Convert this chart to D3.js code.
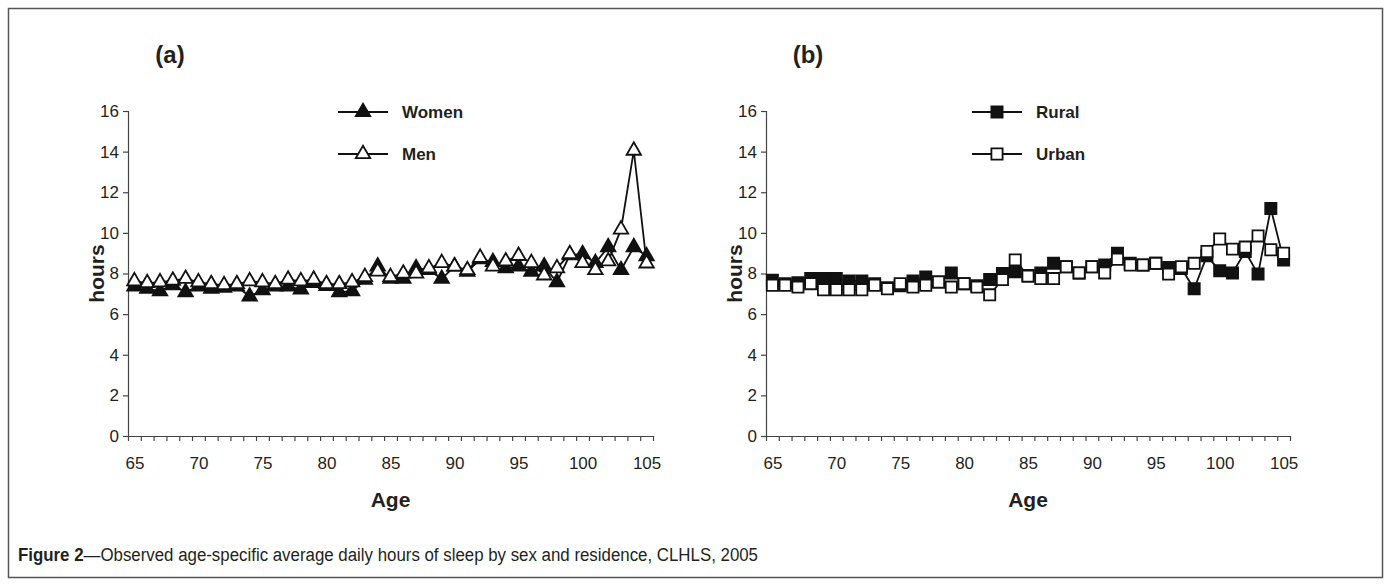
<!DOCTYPE html>
<html>
<head>
<meta charset="utf-8">
<script src="https://cdn.jsdelivr.net/npm/d3@7"></script>
<style>
  body { margin: 0; background: #fff; }
  text { font-family: "Liberation Sans", Arial, sans-serif; fill: #231f20; }
</style>
</head>
<body>
<div id="viz"></div>
<script>
const w = 1391;
const h = 586;

// ages 65..105 (categories)
const ages = [65,66,67,68,69,70,71,72,73,74,75,76,77,78,79,80,81,82,83,84,85,
              86,87,88,89,90,91,92,93,94,95,96,97,98,99,100,101,102,103,104,105];
const ageLabels = [65,70,75,80,85,90,95,100,105];
const hourTicks = [0,2,4,6,8,10,12,14,16];

// panel (a): by sex
const women = [7.36,7.25,7.13,7.43,7.08,7.36,7.25,7.30,7.36,6.87,7.18,7.36,7.36,7.22,7.53,7.39,7.08,7.13,7.70,8.35,
               7.74,7.74,8.26,8.17,7.74,8.35,8.09,8.70,8.57,8.26,8.35,8.09,8.35,7.57,8.90,8.96,8.52,9.30,8.17,9.30,8.85];
const men   = [7.62,7.53,7.57,7.65,7.74,7.57,7.48,7.43,7.48,7.62,7.57,7.48,7.70,7.62,7.70,7.48,7.48,7.57,7.83,8.10,
               7.83,8.00,8.00,8.26,8.52,8.35,8.17,8.78,8.35,8.60,8.87,8.52,7.91,8.26,8.96,8.52,8.17,8.60,10.17,14.05,8.50];

// panel (b): by residence
const rural = [7.67,7.50,7.55,7.75,7.75,7.75,7.63,7.63,7.50,7.30,7.40,7.63,7.83,7.58,8.03,7.50,7.40,7.70,8.00,8.08,
               7.90,8.03,8.50,8.33,8.03,8.33,8.42,9.00,8.50,8.42,8.50,8.30,8.25,7.25,8.87,8.13,8.03,9.08,7.97,11.20,8.67];
const urban = [7.42,7.42,7.33,7.50,7.20,7.20,7.20,7.20,7.42,7.25,7.50,7.33,7.42,7.58,7.33,7.50,7.33,6.95,7.70,8.67,
               7.87,7.75,7.75,8.33,8.03,8.33,8.03,8.70,8.42,8.42,8.50,7.97,8.33,8.50,9.08,9.70,9.20,9.30,9.85,9.17,9.00];

const svg = d3.select('#viz').append('svg')
    .attr('width', w)
    .attr('height', h)

// outer frame
svg.append('rect')
    .attr('x', 8.5).attr('y', 8.5)
    .attr('width', 1374).attr('height', 569)
    .attr('fill', 'none')
    .attr('stroke', '#555')
    .attr('stroke-width', 1.5)

const yTop = 111;
const yBottom = 436;
const y = d3.scaleLinear().domain([0, 16]).range([yBottom, yTop]);

const axisColor = '#444';

function drawPanel(opts) {
    const x = d3.scaleLinear().domain([64.5, 105.5]).range([opts.x0, opts.x1]);
    const g = svg.append('g');

    // y axis
    const yAxis = g.append('g')
        .attr('transform', `translate(${opts.x0},0)`)
        .call(d3.axisLeft(y).tickValues(hourTicks).tickSize(5).tickPadding(4))
    yAxis.select('.domain').attr('stroke', axisColor).attr('stroke-width', 1.2)
    yAxis.selectAll('.tick line').attr('stroke', axisColor).attr('stroke-width', 1.2)
    yAxis.selectAll('.tick text')
        .attr('font-size', 17)
        .attr('font-family', '"Liberation Sans", Arial, sans-serif')
        .attr('fill', '#231f20')

    // x axis: ticks between categories
    const bounds = ages.map(a => a - 0.5).concat([105.5]);
    const xTicks = g.append('g')
        .attr('transform', `translate(0,${yBottom})`)
        .call(d3.axisBottom(x).tickValues(bounds).tickSize(5).tickFormat('').tickSizeOuter(0))
    xTicks.select('.domain').attr('stroke', axisColor).attr('stroke-width', 1.2)
    xTicks.selectAll('.tick line').attr('stroke', axisColor).attr('stroke-width', 1.2)

    // x labels centred on categories
    const xLabels = g.append('g')
        .attr('transform', `translate(0,${yBottom})`)
        .call(d3.axisBottom(x).tickValues(ageLabels).tickSize(0).tickPadding(21))
    xLabels.select('.domain').remove()
    xLabels.selectAll('.tick text')
        .attr('font-size', 17)
        .attr('font-family', '"Liberation Sans", Arial, sans-serif')
        .attr('fill', '#231f20')

    // axis titles
    g.append('text')
        .attr('transform', `translate(${opts.x0 - 24},${(yTop + yBottom) / 2}) rotate(-90)`)
        .attr('text-anchor', 'middle')
        .attr('font-size', 21)
        .attr('font-weight', 'bold')
        .text('hours')

    g.append('text')
        .attr('x', (opts.x0 + opts.x1) / 2)
        .attr('y', 507)
        .attr('text-anchor', 'middle')
        .attr('font-size', 21)
        .attr('font-weight', 'bold')
        .text('Age')

    g.append('text')
        .attr('x', opts.titleX)
        .attr('y', 63)
        .attr('text-anchor', 'middle')
        .attr('font-size', 24)
        .attr('font-weight', 'bold')
        .text(opts.title)

    const line = d3.line()
        .x((d, i) => x(ages[i]))
        .y(d => y(d))

    opts.series.forEach(s => {
        g.append('path')
            .datum(s.values)
            .attr('d', line)
            .attr('fill', 'none')
            .attr('stroke', '#111')
            .attr('stroke-width', 1.8)

        g.selectAll(null)
            .data(s.values)
            .join('path')
            .attr('d', d3.symbol(s.symbol, s.size))
            .attr('transform', (d, i) => `translate(${x(ages[i])},${y(d)})`)
            .attr('fill', s.filled ? '#111' : '#fff')
            .attr('stroke', '#111')
            .attr('stroke-width', 1.8)
    })

    // legend
    opts.series.forEach((s, i) => {
        const ly = 112 + i * 42;
        const lg = g.append('g').attr('transform', `translate(${opts.legendX},${ly})`)
        lg.append('line')
            .attr('x1', 0).attr('x2', 50)
            .attr('stroke', '#111').attr('stroke-width', 1.8)
        lg.append('path')
            .attr('d', d3.symbol(s.symbol, s.size))
            .attr('transform', 'translate(25,0)')
            .attr('fill', s.filled ? '#111' : '#fff')
            .attr('stroke', '#111')
            .attr('stroke-width', 1.8)
        lg.append('text')
            .attr('x', 64)
            .attr('dy', '0.35em')
            .attr('font-size', 17)
            .attr('font-weight', 'bold')
            .text(s.name)
    })
}

drawPanel({
    x0: 128, x1: 653, title: '(a)', titleX: 170, legendX: 338,
    series: [
        { name: 'Women', values: women, symbol: d3.symbolTriangle, size: 90, filled: true },
        { name: 'Men', values: men, symbol: d3.symbolTriangle, size: 90, filled: false }
    ]
})

drawPanel({
    x0: 766, x1: 1290, title: '(b)', titleX: 808, legendX: 972,
    series: [
        { name: 'Rural', values: rural, symbol: d3.symbolSquare, size: 125, filled: true },
        { name: 'Urban', values: urban, symbol: d3.symbolSquare, size: 125, filled: false }
    ]
})

// caption
const caption = svg.append('text')
    .attr('x', 18)
    .attr('y', 561)
    .attr('font-size', 18)
    .attr('textLength', 740)
    .attr('lengthAdjust', 'spacingAndGlyphs')
caption.append('tspan').attr('font-weight', 'bold').text('Figure 2')
caption.append('tspan').text('\u2014Observed age-specific average daily hours of sleep by sex and residence, CLHLS, 2005')
</script>
</body>
</html>
